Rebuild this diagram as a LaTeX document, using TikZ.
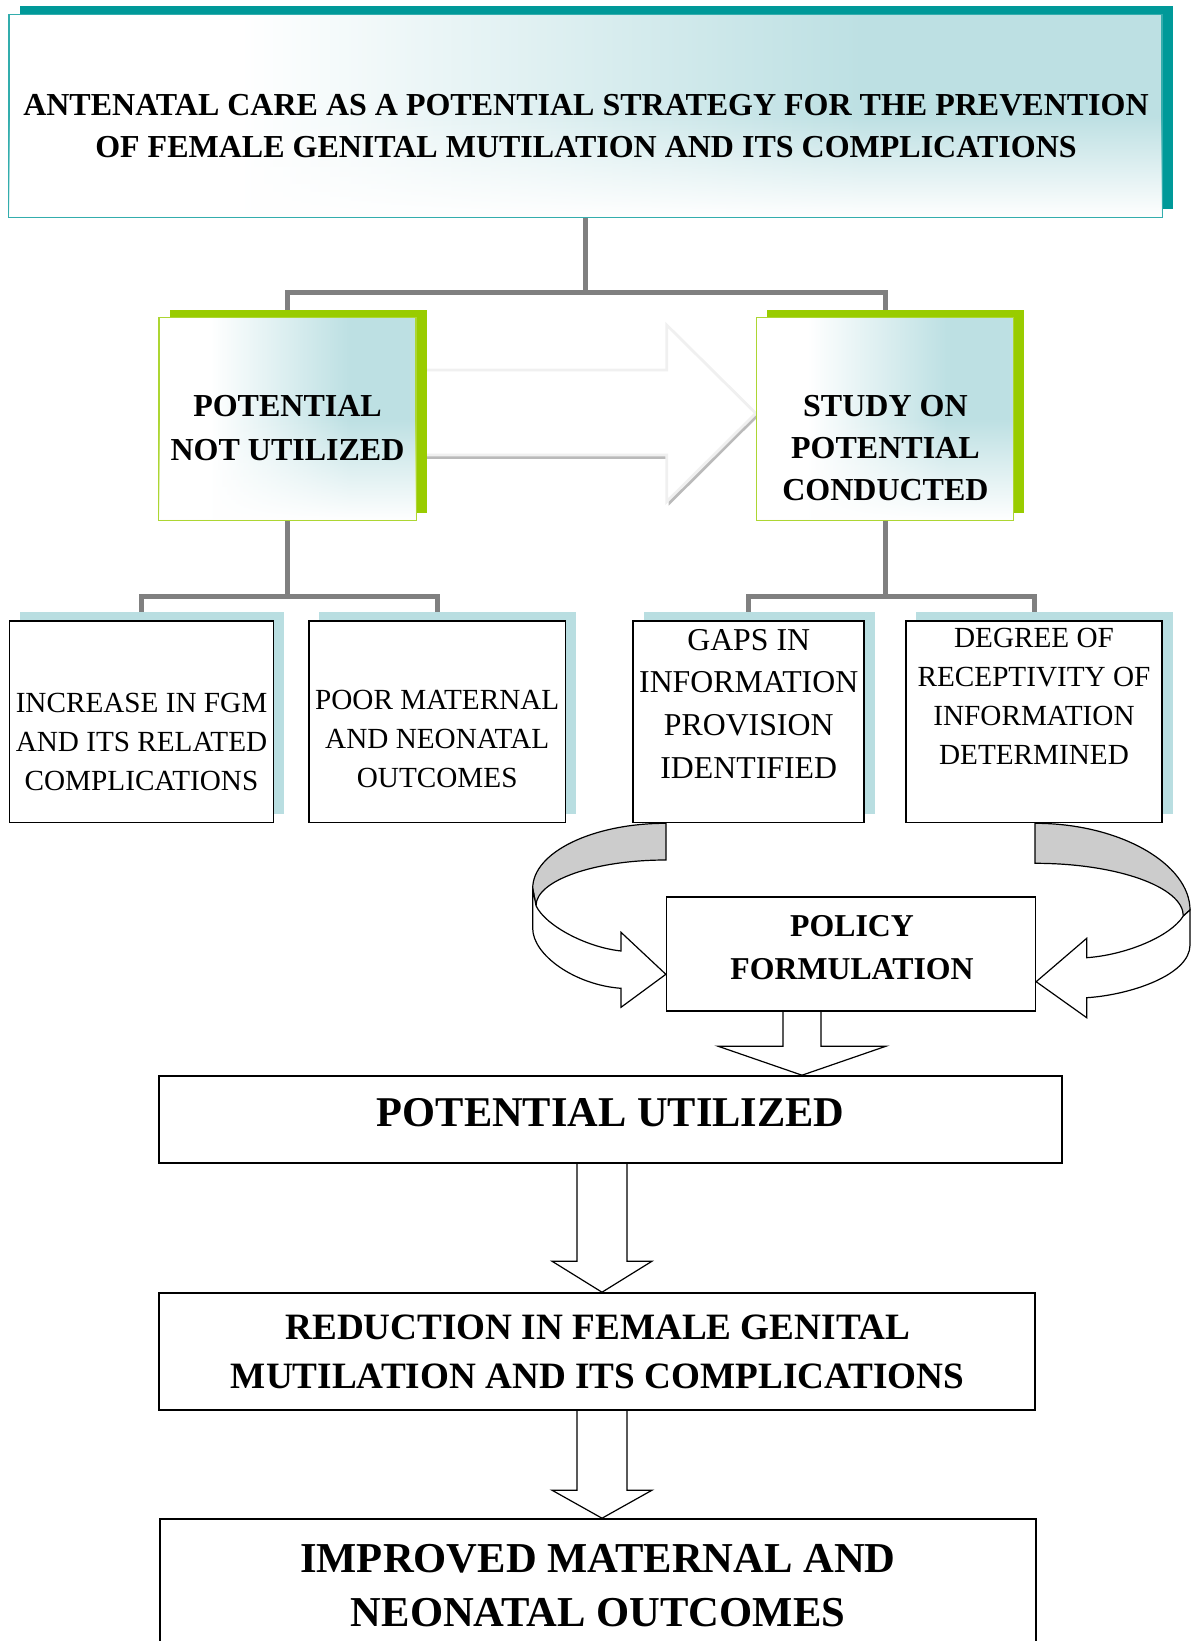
\documentclass[tikz,border=0pt]{standalone}
\usepackage{fontspec}
\setmainfont{Liberation Serif}
\usetikzlibrary{shadows,backgrounds,calc,fadings}
\definecolor{shadowteal}{RGB}{0,153,153}
\definecolor{lightteal}{RGB}{189,224,227}
\definecolor{boxgreen}{RGB}{153,204,0}
\definecolor{subshadow}{RGB}{185,222,225}
\definecolor{conngray}{RGB}{128,128,128}
\definecolor{ribbongray}{RGB}{204,204,204}
\pgfdeclarehorizontalshading{tealfade}{100bp}{color(0bp)=(white); color(35bp)=(white); color(62bp)=(lightteal); color(100bp)=(lightteal)}

% fat block arrow: axis, from, to, shaft half width, head half width, head length
\newcommand\fatarrow[6]{%
  \draw[fatarr] ($(#2.south -| #1)+(-#4,0)$) -- ($(#3.north -| #1)+(-#4,-#6)$)
    -- ($(#3.north -| #1)+(-#5,-#6)$) -- (#3.north -| #1)
    -- ($(#3.north -| #1)+(#5,-#6)$) -- ($(#3.north -| #1)+(#4,-#6)$)
    -- ($(#2.south -| #1)+(#4,0)$);}
% white fade over the lower part of a shaded box
\newcommand\bottomfade[1]{%
  \fill[white,path fading=north] ([xshift=0.4pt,yshift=0.4pt]#1.south west) rectangle ([xshift=-0.4pt]#1.east);}

\begin{document}
\begin{tikzpicture}[x=0.5pt,y=-0.5pt,
    conn/.style={draw=conngray,line width=2.5pt},
    titlebox/.style={draw=shadowteal!80,line width=0.7pt,shading=tealfade,
      general shadow={fill=shadowteal,shadow xshift=5.5pt,shadow yshift=4.25pt}},
    greenbox/.style={draw=boxgreen!80,line width=0.7pt,shading=tealfade,
      general shadow={fill=boxgreen,shadow xshift=5.25pt,shadow yshift=3.75pt},minimum width=128.5pt,minimum height=101.35pt},
    subbox/.style={draw=black,fill=white,line width=0.9pt,
      general shadow={fill=subshadow,shadow xshift=5.25pt,shadow yshift=4.2pt},minimum height=100.9pt},
    plainbox/.style={draw=black,fill=white,line width=0.8pt},
    btext/.style 2 args={align=center,font=\fontsize{#1}{#2}\selectfont\bfseries},
    rtext/.style 2 args={align=center,font=\fontsize{#1}{#2}\selectfont},
    fatarr/.style={draw=black,fill=white,line width=0.6pt},
    ribbon/.style={draw=black,line width=0.6pt}]
  \useasboundingbox (0,0) rectangle (1192,1641);
  \clip (0,0) rectangle (1192,1641);

  \node[titlebox,minimum width=576.5pt,minimum height=101.25pt] (title) at (585.5,115.8) {};
  \bottomfade{title}
  \node[btext={16}{21}] (title-t) at (586,125.6) {ANTENATAL CARE AS A POTENTIAL STRATEGY FOR THE PREVENTION\\OF FEMALE GENITAL MUTILATION AND ITS COMPLICATIONS};

  \node[greenbox] (pnu) at (287.5,418.7) {};
  \bottomfade{pnu}
  \node[btext={16}{22}] (pnu-t) at (287.5,428) {POTENTIAL\\NOT UTILIZED};
  \node[greenbox] (spc) at (885,418.7) {};
  \bottomfade{spc}
  \node[btext={16}{21}] (spc-t) at (885.4,448) {STUDY ON\\POTENTIAL\\CONDUCTED};

  \node[subbox,minimum width=131.95pt] (inc) at (141.5,721.6) {};
  \node[rtext={14.6}{19.4}] (inc-t) at (141.5,742) {INCREASE IN FGM\\AND ITS RELATED\\COMPLICATIONS};
  \node[subbox,minimum width=128.35pt] (poor) at (437.2,721.6) {};
  \node[rtext={14.6}{19.4}] (poor-t) at (437.2,739) {POOR MATERNAL\\AND NEONATAL\\OUTCOMES};
  \node[subbox,minimum width=115.5pt] (gaps) at (748.7,721.6) {};
  \node[rtext={15.9}{21.45}] (gaps-t) at (748.7,703.9) {GAPS IN\\INFORMATION\\PROVISION\\IDENTIFIED};
  \node[subbox,minimum width=128.3pt] (deg) at (1034,721.6) {};
  \node[rtext={14.6}{19.4}] (deg-t) at (1034,696.5) {DEGREE OF\\RECEPTIVITY OF\\INFORMATION\\DETERMINED};

  \node[plainbox,minimum width=184.35pt,minimum height=57pt] (policy) at (851,953.7) {};
  \node[btext={15.9}{21.5}] (policy-t) at (852,947.5) {POLICY\\FORMULATION};
  \node[plainbox,minimum width=451.5pt,minimum height=43.4pt] (pu) at (610.7,1119.4) {};
  \node[btext={21.2}{26}] (pu-t) at (610.7,1112.5) {POTENTIAL UTILIZED};
  \node[plainbox,minimum width=438pt,minimum height=58.5pt] (red) at (597,1351.5) {};
  \node[btext={18.6}{24.5}] (red-t) at (597.6,1351.5) {REDUCTION IN FEMALE GENITAL\\MUTILATION AND ITS COMPLICATIONS};
  \node[plainbox,minimum width=438pt,minimum height=100pt] (imp) at (598,1619) {};
  \node[btext={21.3}{27.3}] (imp-t) at (598,1585.7) {IMPROVED MATERNAL AND\\NEONATAL OUTCOMES};

  % twisted arrows into policy box
  \draw[ribbon,fill=ribbongray] (666,823.3) .. controls (592.4,823.3) and (532.7,852.4) .. (532.7,888.3)
    -- (536,905.7) .. controls (536,880.5) and (594.2,860) .. (666,860) -- cycle;
  \draw[ribbon,fill=white] (532.7,888.3) -- (532.7,928.3) .. controls (532.7,955) and (575,985) .. (621,988.3)
    -- (621,1007.3) -- (policy.west |- 0,974.3) -- (621,932.3) -- (621,951)
    .. controls (585,947) and (545,925) .. (536,905.7) -- cycle;
  \draw[ribbon,fill=ribbongray] (1035,823.3) .. controls (1120.6,823.3) and (1190,864.4) .. (1190,910)
    -- (1183.3,916) .. controls (1183.3,886.9) and (1116.9,863.3) .. (1035,863.3) -- cycle;
  \draw[ribbon,fill=white] (1190,910) -- (1190,945) .. controls (1190,975) and (1130,995) .. (1086.7,997.7)
    -- (1086.7,1017.7) -- (policy.east |- 0,981.7) -- (1086.7,938.3) -- (1086.7,957.7)
    .. controls (1125,955) and (1170,937) .. (1183.3,916) -- cycle;

  \begin{scope}[on background layer]
    \coordinate (topbar) at (585.5,293);
    \draw[conn] (title.south) -- (topbar);
    \draw[conn] (pnu.north) |- (topbar) -| (spc.north);
    \coordinate (lbar) at (287.5,596.6);
    \draw[conn] (pnu.south) -- (lbar);
    \draw[conn] (inc.north) |- (lbar) -| (poor.north);
    \coordinate (rbar) at (885,596.6);
    \draw[conn] (spc.south) -- (rbar);
    \draw[conn] (gaps.north) |- (rbar) -| (deg.north);
    % hollow arrow between the green boxes
    \fill[black!27] (420,374) -- (668.7,374) -- (668.7,329) -- (757.5,417.3) -- (668.7,505.7) -- (668.7,459) -- (420,459) -- cycle;
    \draw[draw=black!6,line width=1.4pt,fill=white] (418,370) -- (666.7,370) -- (666.7,325) -- (spc.west |- 0,413.3)
      -- (666.7,501.7) -- (666.7,455) -- (418,455) -- cycle;
    \coordinate (ax1) at (802,0);
    \coordinate (ax2) at (602,0);
    \fatarrow{ax1}{policy}{pu}{19}{84}{29}
    \fatarrow{ax2}{pu}{red}{25}{50}{31}
    \fatarrow{ax2}{red}{imp}{25}{50}{28}
  \end{scope}
\end{tikzpicture}
\end{document}
